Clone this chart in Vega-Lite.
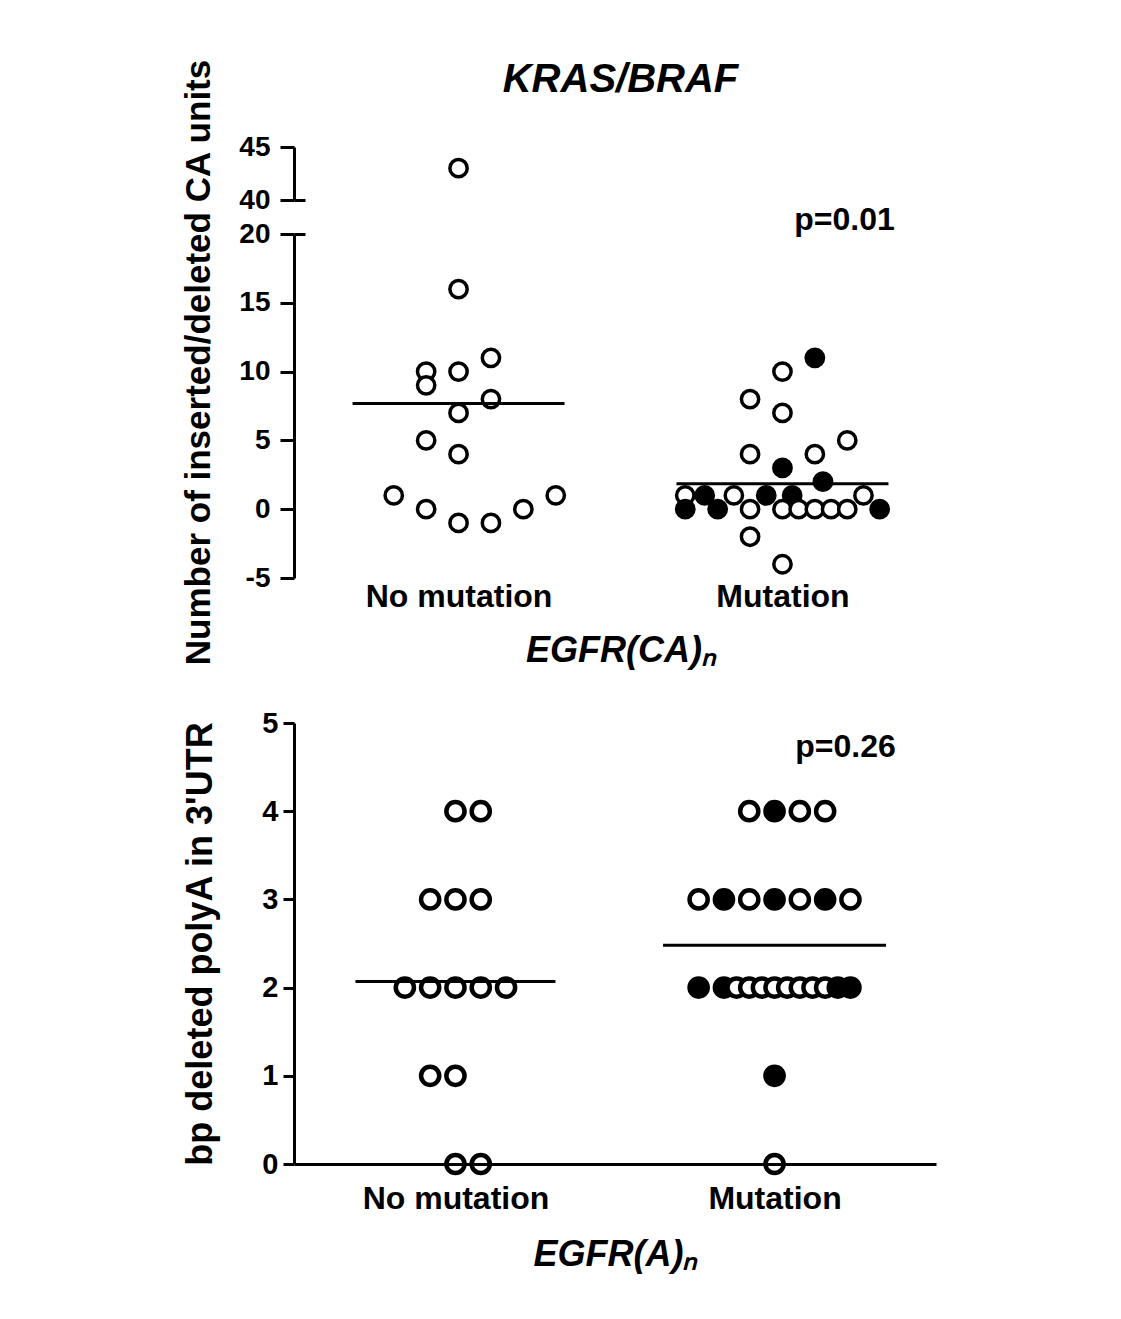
{
  "$schema": "https://vega.github.io/schema/vega-lite/v6.json",
  "background": "white",
  "padding": {"left": 181, "top": 58, "right": 10, "bottom": 10},
  "config": {
    "font": "Liberation Sans",
    "view": {"stroke": null},
    "axis": {
      "labelFont": "Liberation Sans", "labelFontWeight": "bold", "labelFontSize": 28, "labelColor": "black", "labelLimit": 0,
      "titleFont": "Liberation Sans", "titleFontWeight": "bold", "titleFontSize": 36, "titleColor": "black",
      "domainColor": "black", "domainWidth": 3, "tickColor": "black", "tickWidth": 3, "grid": false
    }
  },
  "datasets": {
    "ca": [
      {"group": "No mutation", "v": 43, "slot": 0, "status": "open"},
      {"group": "No mutation", "v": 16, "slot": 0, "status": "open"},
      {"group": "No mutation", "v": 11, "slot": 2, "status": "open"},
      {"group": "No mutation", "v": 10, "slot": -2, "status": "open"},
      {"group": "No mutation", "v": 10, "slot": 0, "status": "open"},
      {"group": "No mutation", "v": 9, "slot": -2, "status": "open"},
      {"group": "No mutation", "v": 8, "slot": 2, "status": "open"},
      {"group": "No mutation", "v": 7, "slot": 0, "status": "open"},
      {"group": "No mutation", "v": 5, "slot": -2, "status": "open"},
      {"group": "No mutation", "v": 4, "slot": 0, "status": "open"},
      {"group": "No mutation", "v": 1, "slot": -4, "status": "open"},
      {"group": "No mutation", "v": 1, "slot": 6, "status": "open"},
      {"group": "No mutation", "v": 0, "slot": -2, "status": "open"},
      {"group": "No mutation", "v": 0, "slot": 4, "status": "open"},
      {"group": "No mutation", "v": -1, "slot": 0, "status": "open"},
      {"group": "No mutation", "v": -1, "slot": 2, "status": "open"},
      {"group": "Mutation", "v": 11, "slot": 2, "status": "filled"},
      {"group": "Mutation", "v": 10, "slot": 0, "status": "open"},
      {"group": "Mutation", "v": 8, "slot": -2, "status": "open"},
      {"group": "Mutation", "v": 7, "slot": 0, "status": "open"},
      {"group": "Mutation", "v": 5, "slot": 4, "status": "open"},
      {"group": "Mutation", "v": 4, "slot": -2, "status": "open"},
      {"group": "Mutation", "v": 4, "slot": 2, "status": "open"},
      {"group": "Mutation", "v": 3, "slot": 0, "status": "filled"},
      {"group": "Mutation", "v": 2, "slot": 2.5, "status": "filled"},
      {"group": "Mutation", "v": 1, "slot": -6, "status": "open"},
      {"group": "Mutation", "v": 1, "slot": -4.8, "status": "filled"},
      {"group": "Mutation", "v": 1, "slot": -3, "status": "open"},
      {"group": "Mutation", "v": 1, "slot": -1, "status": "filled"},
      {"group": "Mutation", "v": 1, "slot": 0.6, "status": "filled"},
      {"group": "Mutation", "v": 1, "slot": 5, "status": "open"},
      {"group": "Mutation", "v": 0, "slot": -6, "status": "filled"},
      {"group": "Mutation", "v": 0, "slot": -4, "status": "filled"},
      {"group": "Mutation", "v": 0, "slot": -2, "status": "open"},
      {"group": "Mutation", "v": 0, "slot": 0, "status": "open"},
      {"group": "Mutation", "v": 0, "slot": 1, "status": "open"},
      {"group": "Mutation", "v": 0, "slot": 2, "status": "open"},
      {"group": "Mutation", "v": 0, "slot": 3, "status": "open"},
      {"group": "Mutation", "v": 0, "slot": 4, "status": "open"},
      {"group": "Mutation", "v": 0, "slot": 6, "status": "filled"},
      {"group": "Mutation", "v": -2, "slot": -2, "status": "open"},
      {"group": "Mutation", "v": -4, "slot": 0, "status": "open"}
    ],
    "polya": [
      {"group": "No mutation", "v": 4, "slot": 0, "status": "open"},
      {"group": "No mutation", "v": 4, "slot": 2, "status": "open"},
      {"group": "No mutation", "v": 3, "slot": -2, "status": "open"},
      {"group": "No mutation", "v": 3, "slot": 0, "status": "open"},
      {"group": "No mutation", "v": 3, "slot": 2, "status": "open"},
      {"group": "No mutation", "v": 2, "slot": -4, "status": "open"},
      {"group": "No mutation", "v": 2, "slot": -2, "status": "open"},
      {"group": "No mutation", "v": 2, "slot": 0, "status": "open"},
      {"group": "No mutation", "v": 2, "slot": 2, "status": "open"},
      {"group": "No mutation", "v": 2, "slot": 4, "status": "open"},
      {"group": "No mutation", "v": 1, "slot": -2, "status": "open"},
      {"group": "No mutation", "v": 1, "slot": 0, "status": "open"},
      {"group": "No mutation", "v": 0, "slot": 0, "status": "open"},
      {"group": "No mutation", "v": 0, "slot": 2, "status": "open"},
      {"group": "Mutation", "v": 4, "slot": -2, "status": "open"},
      {"group": "Mutation", "v": 4, "slot": 0, "status": "filled"},
      {"group": "Mutation", "v": 4, "slot": 2, "status": "open"},
      {"group": "Mutation", "v": 4, "slot": 4, "status": "open"},
      {"group": "Mutation", "v": 3, "slot": -6, "status": "open"},
      {"group": "Mutation", "v": 3, "slot": -4, "status": "filled"},
      {"group": "Mutation", "v": 3, "slot": -2, "status": "open"},
      {"group": "Mutation", "v": 3, "slot": 0, "status": "filled"},
      {"group": "Mutation", "v": 3, "slot": 2, "status": "open"},
      {"group": "Mutation", "v": 3, "slot": 4, "status": "filled"},
      {"group": "Mutation", "v": 3, "slot": 6, "status": "open"},
      {"group": "Mutation", "v": 2, "slot": -6, "status": "filled"},
      {"group": "Mutation", "v": 2, "slot": -4, "status": "filled"},
      {"group": "Mutation", "v": 2, "slot": -3, "status": "open"},
      {"group": "Mutation", "v": 2, "slot": -2, "status": "open"},
      {"group": "Mutation", "v": 2, "slot": -1, "status": "open"},
      {"group": "Mutation", "v": 2, "slot": 0, "status": "open"},
      {"group": "Mutation", "v": 2, "slot": 1, "status": "open"},
      {"group": "Mutation", "v": 2, "slot": 2, "status": "open"},
      {"group": "Mutation", "v": 2, "slot": 3, "status": "open"},
      {"group": "Mutation", "v": 2, "slot": 4, "status": "open"},
      {"group": "Mutation", "v": 2, "slot": 5, "status": "filled"},
      {"group": "Mutation", "v": 2, "slot": 6, "status": "filled"},
      {"group": "Mutation", "v": 1, "slot": 0, "status": "filled"},
      {"group": "Mutation", "v": 0, "slot": 0, "status": "open"}
    ],
    "means": [
      {"panel": "CA", "group": "No mutation", "mean": 7.69},
      {"panel": "CA", "group": "Mutation", "mean": 1.85},
      {"panel": "A", "group": "No mutation", "mean": 2.07},
      {"panel": "A", "group": "Mutation", "mean": 2.48}
    ],
    "pvals": [
      {"panel": "CA", "group": "Mutation", "v": 21, "label": "p=0.01"},
      {"panel": "A", "group": "Mutation", "v": 4.73, "label": "p=0.26"}
    ]
  },
  "bounds": "flush",
  "spacing": 34,
  "resolve": {"scale": {"xOffset": "independent"}},
  "vconcat": [
    {
      "width": 653,
      "height": 53,
      "title": {"text": "KRAS/BRAF", "font": "Liberation Sans", "fontSize": 40, "fontStyle": "italic", "fontWeight": "bold", "color": "black", "anchor": "middle", "frame": "group", "baseline": "alphabetic", "offset": 1},
      "data": {"name": "ca"},
      "transform": [{"filter": "datum.v >= 40"}],
      "resolve": {"axis": {"y": "independent"}},
      "layer": [
        {
          "mark": {"type": "circle", "size": 300, "stroke": "black", "strokeWidth": 3.5, "opacity": 1},
          "encoding": {
            "x": {"field": "group", "type": "nominal", "scale": {"type": "point", "domain": ["No mutation", "Mutation"], "padding": 0.508, "align": 0.5}, "axis": null},
            "xOffset": {"field": "slot", "type": "quantitative", "scale": {"domain": [-10, 10], "range": [-162, 162]}},
            "y": {"field": "v", "type": "quantitative", "scale": {"domain": [40, 45], "nice": false, "zero": false}, "axis": {"values": [40, 45], "tickSize": 14, "labelPadding": 10, "title": null}},
            "fill": {"field": "status", "type": "nominal", "scale": {"domain": ["open", "filled"], "range": ["white", "black"]}, "legend": null}
          }
        },
        {
          "mark": {"type": "circle", "opacity": 0},
          "encoding": {
            "x": {"field": "group", "type": "nominal", "axis": null},
            "y": {"field": "v", "type": "quantitative", "axis": {"orient": "left", "offset": -11, "values": [40], "tickSize": 11, "labels": false, "domain": false, "title": null}}
          }
        }
      ]
    },
    {
      "width": 653,
      "height": 344,
      "resolve": {"axis": {"y": "independent"}},
      "layer": [
        {
          "data": {"name": "ca"},
          "transform": [{"filter": "datum.v < 40"}],
          "mark": {"type": "circle", "size": 300, "stroke": "black", "strokeWidth": 3.5, "opacity": 1},
          "encoding": {
            "x": {"field": "group", "type": "nominal", "scale": {"type": "point", "domain": ["No mutation", "Mutation"], "padding": 0.508, "align": 0.5},
                  "axis": {"orient": "bottom", "domain": false, "ticks": false, "labelAngle": 0, "labelFontSize": 32, "labelPadding": 3, "title": "EGFR(CA)ₙ", "titleFontStyle": "italic", "titlePadding": 21}},
            "xOffset": {"field": "slot", "type": "quantitative", "scale": {"domain": [-10, 10], "range": [-162, 162]}},
            "y": {"field": "v", "type": "quantitative", "scale": {"domain": [-5, 20], "nice": false, "zero": false},
                  "axis": {"values": [-5, 0, 5, 10, 15, 20], "tickSize": 14, "labelPadding": 10, "labelExpr": "replace(datum.label, '\u2212', '-')", "title": "Number of inserted/deleted CA units", "titleFontSize": 35, "titleY": 128, "titlePadding": 22}},
            "fill": {"field": "status", "type": "nominal", "scale": {"domain": ["open", "filled"], "range": ["white", "black"]}, "legend": null}
          }
        },
        {
          "data": {"values": [{"v": 20}]},
          "mark": {"type": "circle", "opacity": 0},
          "encoding": {
            "y": {"field": "v", "type": "quantitative", "axis": {"orient": "left", "offset": -11, "values": [20], "tickSize": 11, "labels": false, "domain": false, "title": null}}
          }
        },
        {
          "mark": {"type": "rule", "color": "black", "strokeWidth": 3},
          "encoding": {"y": {"datum": 0, "type": "quantitative", "axis": null}}
        },
        {
          "data": {"name": "means"},
          "transform": [{"filter": "datum.panel == 'CA'"}],
          "mark": {"type": "tick", "color": "black", "size": 212, "thickness": 3, "opacity": 1},
          "encoding": {
            "x": {"field": "group", "type": "nominal"},
            "y": {"field": "mean", "type": "quantitative", "axis": null}
          }
        },
        {
          "data": {"name": "pvals"},
          "transform": [{"filter": "datum.panel == 'CA'"}],
          "mark": {"type": "text", "font": "Liberation Sans", "fontWeight": "bold", "fontSize": 32, "color": "black", "align": "center", "baseline": "middle", "dx": 62},
          "encoding": {
            "x": {"field": "group", "type": "nominal"},
            "y": {"field": "v", "type": "quantitative", "axis": null},
            "text": {"field": "label"}
          }
        }
      ]
    },
    {
      "width": 653,
      "height": 77,
      "data": {"values": [{"k": 1}]},
      "mark": {"type": "rule", "opacity": 0},
      "encoding": {}
    },
    {
      "width": 642,
      "height": 441,
      "layer": [
        {
          "data": {"name": "polya"},
          "mark": {"type": "circle", "size": 330, "stroke": "black", "strokeWidth": 4.5, "opacity": 1},
          "encoding": {
            "x": {"field": "group", "type": "nominal", "scale": {"type": "point", "domain": ["No mutation", "Mutation"], "padding": 0.506, "align": 0.5},
                  "axis": {"orient": "bottom", "domain": true, "ticks": false, "labelAngle": 0, "labelFontSize": 32, "labelPadding": 19, "title": "EGFR(A)ₙ", "titleFontStyle": "italic", "titlePadding": 23, "zindex": 1}},
            "xOffset": {"field": "slot", "type": "quantitative", "scale": {"domain": [-10, 10], "range": [-126.5, 126.5]}},
            "y": {"field": "v", "type": "quantitative", "scale": {"domain": [0, 5], "nice": false},
                  "axis": {"values": [0, 1, 2, 3, 4, 5], "format": "d", "tickSize": 11, "labelPadding": 5, "labelFontSize": 29, "title": "bp deleted polyA in 3'UTR", "titlePadding": 42, "zindex": 1}},
            "fill": {"field": "status", "type": "nominal", "scale": {"domain": ["open", "filled"], "range": ["white", "black"]}, "legend": null}
          }
        },
        {
          "data": {"name": "means"},
          "transform": [{"filter": "datum.panel == 'A' && datum.group == 'No mutation'"}],
          "mark": {"type": "tick", "color": "black", "size": 200, "thickness": 3, "opacity": 1},
          "encoding": {
            "x": {"field": "group", "type": "nominal"},
            "y": {"field": "mean", "type": "quantitative"}
          }
        },
        {
          "data": {"name": "means"},
          "transform": [{"filter": "datum.panel == 'A' && datum.group == 'Mutation'"}],
          "mark": {"type": "tick", "color": "black", "size": 223, "thickness": 3, "opacity": 1},
          "encoding": {
            "x": {"field": "group", "type": "nominal"},
            "y": {"field": "mean", "type": "quantitative"}
          }
        },
        {
          "data": {"name": "pvals"},
          "transform": [{"filter": "datum.panel == 'A'"}],
          "mark": {"type": "text", "font": "Liberation Sans", "fontWeight": "bold", "fontSize": 32, "color": "black", "align": "center", "baseline": "middle", "dx": 71},
          "encoding": {
            "x": {"field": "group", "type": "nominal"},
            "y": {"field": "v", "type": "quantitative"},
            "text": {"field": "label"}
          }
        }
      ]
    }
  ]
}
